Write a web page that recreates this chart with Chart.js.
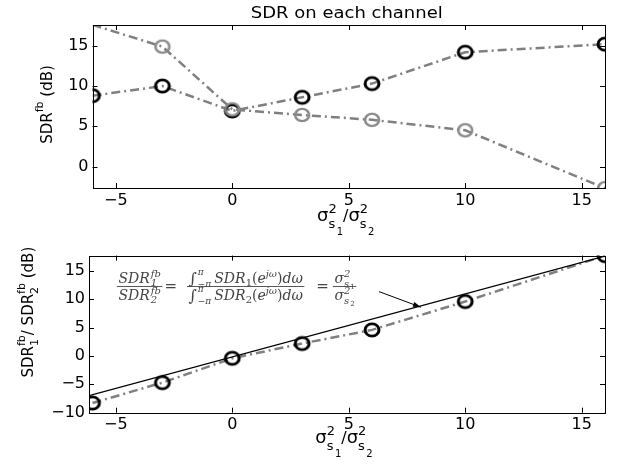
<!DOCTYPE html>
<html lang="en">
<head>
<meta charset="UTF-8">
<title>SDR on each channel</title>
<script src="https://cdn.jsdelivr.net/npm/chart.js@4.4.0/dist/chart.umd.min.js"></script>
<style>
  body { margin: 0; background: #fff; }
  #wrap { position: relative; width: 622px; height: 466px; }
  canvas { position: absolute; left: 0; }
</style>
</head>
<body>
<div id="wrap">
  <canvas id="topChart" width="622" height="245" style="top:0"></canvas>
  <canvas id="bottomChart" width="622" height="224" style="top:242px"></canvas>
</div>
<script>
// sigma_s1^2 / sigma_s2^2 values (dB)
const powerRatio = [-6, -3, 0, 3, 6, 10, 16];
const sdrChannel1 = [8.8, 10.0, 6.9, 8.6, 10.3, 14.2, 15.2];
const sdrChannel2 = [17.6, 14.9, 7.1, 6.4, 5.8, 4.5, -2.7];
const sdrDifference = [-8.3, -4.7, -0.4, 2.2, 4.6, 9.6, 17.7];
const theoryX = [-6.15, 16];
const theoryY = [-7.0, 17.6];
const xTicks = [-5, 0, 5, 10, 15];
const yTicksTop = [0, 5, 10, 15];
const yTicksBottom = [-10, -5, 0, 5, 10, 15];

const GRAY = '#808080';
const DASHDOT = [9, 4, 2, 4];
const sans = s => s + 'px "DejaVu Sans"';
const serif = (s, it) => (it ? 'italic ' : '') + s + 'px "DejaVu Serif"';

const pts = (xs, ys) => xs.map((x, i) => ({ x: x, y: ys[i] }));
const fmt = v => String(v).replace('-', '\u2212');

// hollow marker, a little wider than tall like the original figure
function ring(color, lw) {
  const c = document.createElement('canvas');
  c.width = 24; c.height = 20;
  const g = c.getContext('2d');
  g.translate(12, 10);
  g.scale(1.12, 1);
  g.beginPath();
  g.arc(0, 0, 6.2, 0, 2 * Math.PI);
  g.strokeStyle = color;
  g.lineWidth = lw;
  g.stroke();
  return c;
}
const blackRing = ring('#000', 2.7);
const grayRing = ring('#8a8a8a', 2.3);

// rich text: plain runs {t,f,dy,gap} or stacked scripts {sup,sub,f,up,down}
function partsWidth(ctx, parts) {
  let w = 0;
  parts.forEach(p => {
    ctx.font = p.f;
    if (p.sup !== undefined) w += Math.max(ctx.measureText(p.sup).width, ctx.measureText(p.sub).width);
    else w += ctx.measureText(p.t).width;
    w += p.gap || 0;
  });
  return w;
}
function drawParts(ctx, x, y, parts) {
  parts.forEach(p => {
    ctx.font = p.f;
    if (p.sup !== undefined) {
      ctx.fillText(p.sup, x, y + p.up);
      ctx.fillText(p.sub, x, y + p.down);
      x += Math.max(ctx.measureText(p.sup).width, ctx.measureText(p.sub).width);
    } else {
      ctx.fillText(p.t, x, y + (p.dy || 0));
      x += ctx.measureText(p.t).width;
    }
    x += p.gap || 0;
  });
  return x;
}

const xLabelParts = [
  { t: 'σ', f: sans(18) },
  { sup: '2', sub: 's', f: sans(13), up: -8, down: 7 },
  { t: '1', f: sans(10), dy: 14 },
  { t: '/', f: sans(16) },
  { t: 'σ', f: sans(18) },
  { sup: '2', sub: 's', f: sans(13), up: -8, down: 7 },
  { t: '2', f: sans(10), dy: 14 }
];

function axisLabels(opts) {
  return {
    id: 'axisLabels',
    afterDraw(chart) {
      const { ctx, chartArea: a } = chart;
      ctx.save();
      ctx.fillStyle = '#000';
      ctx.textBaseline = 'alphabetic';
      const cx = (a.left + a.right) / 2 - 3;
      const w = partsWidth(ctx, xLabelParts);
      drawParts(ctx, cx - w / 2, a.bottom + opts.xLabelOffset, xLabelParts);
      const yw = partsWidth(ctx, opts.yParts);
      ctx.translate(opts.yLabelX, (a.top + a.bottom) / 2 + opts.yLabelShift);
      ctx.rotate(-Math.PI / 2);
      drawParts(ctx, -yw / 2, 0, opts.yParts);
      ctx.restore();
      if (opts.title) {
        ctx.save();
        ctx.fillStyle = '#000';
        ctx.font = sans(15);
        ctx.textAlign = 'center';
        ctx.translate((a.left + a.right) / 2 - 2, 18);
        ctx.scale(1.2, 1);
        ctx.fillText(opts.title, 0, 0);
        ctx.restore();
      }
    }
  };
}

const framePlugin = {
  id: 'frame',
  afterDraw(chart) {
    const { ctx, chartArea: a, scales: { x, y } } = chart;
    ctx.save();
    ctx.strokeStyle = '#000';
    ctx.lineWidth = 1;
    ctx.strokeRect(Math.round(a.left) + 0.5, Math.round(a.top) + 0.5,
      Math.round(a.right) - Math.round(a.left), Math.round(a.bottom) - Math.round(a.top));
    ctx.beginPath();
    x.ticks.forEach(t => {
      const px = Math.round(x.getPixelForValue(t.value)) + 0.5;
      ctx.moveTo(px, a.bottom); ctx.lineTo(px, a.bottom - 5);
      ctx.moveTo(px, a.top); ctx.lineTo(px, a.top + 5);
    });
    y.ticks.forEach(t => {
      const py = Math.round(y.getPixelForValue(t.value)) + 0.5;
      ctx.moveTo(a.left, py); ctx.lineTo(a.left + 5, py);
      ctx.moveTo(a.right, py); ctx.lineTo(a.right - 5, py);
    });
    ctx.stroke();
    ctx.restore();
  }
};

function xScale(min, ticks, height) {
  return {
    type: 'linear', min: min, max: 16,
    afterBuildTicks: s => { s.ticks = ticks.map(v => ({ value: v })); },
    afterFit: s => { s.height = height; },
    grid: { display: false, drawTicks: false },
    border: { display: false },
    ticks: { font: { family: 'DejaVu Sans', size: 16 }, color: '#000', padding: 3, maxRotation: 0, autoSkip: false, callback: fmt }
  };
}
function yScale(min, max, ticks, width) {
  return {
    type: 'linear', min: min, max: max,
    afterBuildTicks: s => { s.ticks = ticks.map(v => ({ value: v })); },
    afterFit: s => { s.width = width; },
    grid: { display: false, drawTicks: false },
    border: { display: false },
    ticks: { font: { family: 'DejaVu Sans', size: 16 }, color: '#000', padding: 4, autoSkip: false, callback: fmt }
  };
}

const baseOptions = {
  responsive: false,
  animation: false,
  events: [],
  plugins: { legend: { display: false }, tooltip: { enabled: false } },
  elements: { line: { tension: 0 } }
};

// ---- top chart: SDR on each channel
new Chart(document.getElementById('topChart'), {
  type: 'line',
  data: {
    datasets: [{
      data: pts(powerRatio, sdrChannel2),
      borderColor: GRAY, borderWidth: 2.5, borderDash: DASHDOT, fill: false,
      pointStyle: grayRing,
      pointRadius: c => (c.raw && c.raw.y > c.chart.scales.y.max ? 0 : 7),
      order: 0
    }, {
      data: pts(powerRatio, sdrChannel1),
      borderColor: GRAY, borderWidth: 2.5, borderDash: DASHDOT, fill: false,
      pointStyle: blackRing, pointRadius: 7,
      order: 1
    }]
  },
  options: Object.assign({}, baseOptions, {
    layout: { padding: { top: 25, right: 17, left: 0, bottom: 0 } },
    scales: {
      x: xScale(-6, xTicks, 57),
      y: yScale(-2.67, 17.58, yTicksTop, 92.5)
    }
  }),
  plugins: [framePlugin, axisLabels({
    title: 'SDR on each channel',
    xLabelOffset: 33,
    yLabelX: 52, yLabelShift: -2,
    yParts: [
      { t: 'SDR', f: sans(15) },
      { t: 'fb', f: sans(11), dy: -9 },
      { t: ' (dB)', f: sans(15) }
    ]
  })]
});

// ---- bottom chart: SDR1 / SDR2
const formulaPlugin = {
  id: 'formula',
  afterDatasetsDraw(chart) {
    const { ctx, scales: { x, y } } = chart;
    ctx.save();
    ctx.fillStyle = '#444';
    ctx.textBaseline = 'alphabetic';
    let bx = x.getPixelForValue(-4.95);
    const by = Math.round(y.getPixelForValue(12.4)) + 0.5;
    const frac = (num, den) => {
      const wn = partsWidth(ctx, num), wd = partsWidth(ctx, den);
      const w = Math.max(wn, wd) + 3;
      drawParts(ctx, bx + (w - wn) / 2, by - 4, num);
      drawParts(ctx, bx + (w - wd) / 2, by + 13, den);
      ctx.strokeStyle = '#444';
      ctx.lineWidth = 0.9;
      ctx.beginPath(); ctx.moveTo(bx, by); ctx.lineTo(bx + w, by); ctx.stroke();
      bx += w;
    };
    const eq = (before, after) => {
      ctx.font = serif(15);
      ctx.fillText('=', bx + before, by + 4);
      bx += ctx.measureText('=').width + before + after;
    };
    const sdrFb = n => [
      { t: 'SDR', f: serif(14, true), gap: 1 },
      { sup: 'fb', sub: n, f: serif(10, true), up: -6, down: 3 }
    ];
    const integral = n => [
      { t: '∫', f: serif(16), dy: 1, gap: 1 },
      { sup: 'π', sub: '−π', f: serif(9, true), up: -8, down: 4, gap: 3 },
      { t: 'SDR', f: serif(14, true) },
      { t: n, f: serif(10), dy: 3 },
      { t: '(', f: serif(14) },
      { t: 'e', f: serif(14, true) },
      { t: 'jω', f: serif(10, true), dy: -6 },
      { t: ')', f: serif(14) },
      { t: 'dω', f: serif(14, true) }
    ];
    const sigma = n => [
      { t: 'σ', f: serif(14, true) },
      { sup: '2', sub: 's', f: serif(10, true), up: -6, down: 4 },
      { t: n, f: serif(7), dy: 6 }
    ];
    frac(sdrFb('1'), sdrFb('2'));
    eq(2, 10);
    frac(integral('1'), integral('2'));
    eq(12, 4);
    frac(sigma('1'), sigma('2'));

    // arrow towards the theoretical line
    const x0 = x.getPixelForValue(6.3), y0 = y.getPixelForValue(11.35);
    const x1 = x.getPixelForValue(8.1), y1 = y.getPixelForValue(8.6);
    const ang = Math.atan2(y1 - y0, x1 - x0);
    ctx.strokeStyle = '#000';
    ctx.fillStyle = '#000';
    ctx.lineWidth = 1;
    ctx.beginPath(); ctx.moveTo(x0, y0); ctx.lineTo(x1, y1); ctx.stroke();
    ctx.beginPath();
    ctx.moveTo(x1, y1);
    ctx.lineTo(x1 - 8 * Math.cos(ang) + 2.5 * Math.sin(ang), y1 - 8 * Math.sin(ang) - 2.5 * Math.cos(ang));
    ctx.lineTo(x1 - 8 * Math.cos(ang) - 2.5 * Math.sin(ang), y1 - 8 * Math.sin(ang) + 2.5 * Math.cos(ang));
    ctx.closePath(); ctx.fill();
    ctx.restore();
  }
};

new Chart(document.getElementById('bottomChart'), {
  type: 'line',
  data: {
    datasets: [{
      data: pts(powerRatio, sdrDifference),
      showLine: false,
      pointStyle: blackRing, pointRadius: 7,
      order: 0
    }, {
      data: pts(theoryX, theoryY),
      borderColor: '#000', borderWidth: 1.2, pointRadius: 0, fill: false,
      order: 1
    }, {
      data: pts(powerRatio, sdrDifference),
      borderColor: GRAY, borderWidth: 2.5, borderDash: DASHDOT, pointRadius: 0, fill: false,
      order: 2
    }]
  },
  options: Object.assign({}, baseOptions, {
    layout: { padding: { top: 9, right: 17, left: 0, bottom: 0 } },
    scales: {
      x: xScale(-6.15, xTicks, 53.3),
      y: yScale(-10, 17.7, yTicksBottom, 89)
    }
  }),
  plugins: [formulaPlugin, framePlugin, axisLabels({
    xLabelOffset: 30,
    yLabelX: 33, yLabelShift: -22,
    yParts: [
      { t: 'SDR', f: sans(15) },
      { sup: 'fb', sub: '1', f: sans(11), up: -8, down: 5 },
      { t: '/ SDR', f: sans(15) },
      { sup: 'fb', sub: '2', f: sans(11), up: -8, down: 5 },
      { t: ' (dB)', f: sans(15) }
    ]
  })]
});
</script>
</body>
</html>
